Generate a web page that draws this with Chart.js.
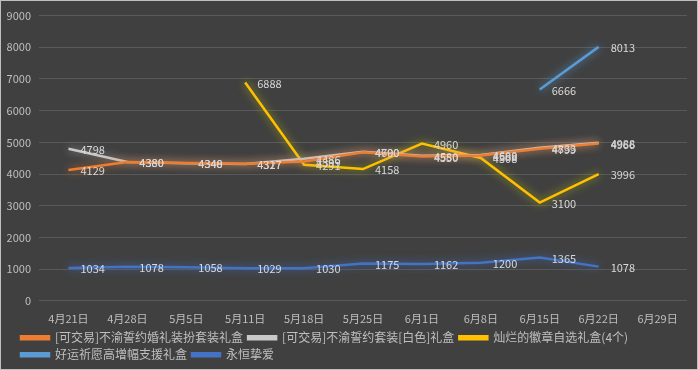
<!DOCTYPE html>
<html>
<head>
<meta charset="utf-8">
<script src="https://cdn.jsdelivr.net/npm/chart.js@4/dist/chart.umd.min.js"></script>
<style>
  html, body { margin: 0; padding: 0; background: #404040; }
  #wrap { width: 698px; height: 370px; box-sizing: border-box; border: 1px solid #bfbfbf; background: #404040; }
</style>
</head>
<body>
<div id="wrap"><canvas id="chart"></canvas></div>
<script>
const categories = ["4月21日", "4月28日", "5月5日", "5月11日", "5月18日", "5月25日", "6月1日", "6月8日", "6月15日", "6月22日", "6月29日"];
const weddingBox = [4129, 4380, 4348, 4327, 4399, 4690, 4550, 4588, 4799, 4966, null];
const whiteSetBox = [4798, 4380, 4340, 4317, 4486, 4700, 4580, 4600, 4833, 4988, null];
const badgeBox = [null, null, null, 6888, 4291, 4158, 4960, 4508, 3100, 3996, null];
const luckBox = [null, null, null, null, null, null, null, null, 6666, 8013, null];
const eternalLove = [1034, 1078, 1058, 1029, 1030, 1175, 1162, 1200, 1365, 1078, null];
const yTicks = [0, 1000, 2000, 3000, 4000, 5000, 6000, 7000, 8000, 9000];

const FONT = "'Noto Sans CJK SC', 'Noto Sans', sans-serif";

// glow round each line
const glowPlugin = {
  id: "glow",
  beforeDatasetDraw(chart, args) {
    const ds = chart.data.datasets[args.index];
    chart.ctx.save();
    chart.ctx.shadowColor = ds.glowColor;
    chart.ctx.shadowBlur = 9;
  },
  afterDatasetDraw(chart) {
    chart.ctx.restore();
  },
};

// value labels to the right of each point
const valueLabels = {
  id: "valueLabels",
  afterDatasetsDraw(chart) {
    const ctx = chart.ctx;
    ctx.save();
    ctx.font = "11px " + FONT;
    ctx.fillStyle = "#d9d9d9";
    ctx.textAlign = "left";
    ctx.textBaseline = "middle";
    chart.data.datasets.forEach((ds, i) => {
      const meta = chart.getDatasetMeta(i);
      meta.data.forEach((pt, j) => {
        const v = ds.data[j];
        if (v === null || v === undefined) return;
        ctx.fillText(String(v), pt.x + 12, pt.y + 1);
      });
    });
    ctx.restore();
  },
};

// push the legend in from the left edge, under the x labels
const legendPlace = {
  id: "legendPlace",
  afterLayout(chart) {
    const lg = chart.legend;
    if (!lg) return;
    lg.left += 10;
    lg.top = chart.chartArea.bottom + 26;
  },
};

function series(label, data, color, glow) {
  return {
    label: label,
    data: data,
    borderColor: color,
    backgroundColor: color,
    glowColor: glow,
    borderWidth: 2.5,
    pointRadius: 0,
    pointHoverRadius: 0,
    tension: 0,
    spanGaps: false,
  };
}

new Chart(document.getElementById("chart"), {
  type: "line",
  data: {
    labels: categories,
    datasets: [
      series("[可交易]不渝誓约婚礼装扮套装礼盒", weddingBox, "#ED7D31", "rgba(237,125,49,0.8)"),
      series("[可交易]不渝誓约套装[白色]礼盒", whiteSetBox, "#C8C8C8", "rgba(200,200,200,0.7)"),
      series("灿烂的徽章自选礼盒(4个)", badgeBox, "#FFC000", "rgba(200,200,0,0.8)"),
      series("好运祈愿高增幅支援礼盒", luckBox, "#5B9BD5", "rgba(91,155,213,0.9)"),
      series("永恒挚爱", eternalLove, "#4472C4", "rgba(68,114,196,0.9)"),
    ],
  },
  options: {
    responsive: true,
    maintainAspectRatio: false,
    animation: false,
    layout: { padding: { left: 5, right: 10, top: -2, bottom: 0 } },
    plugins: {
      legend: {
        position: "bottom",
        align: "start",
        maxHeight: 41,
        labels: {
          color: "#bfbfbf",
          font: { size: 12, family: FONT },
          boxWidth: 28,
          boxHeight: 3,
          padding: 5,
        },
      },
      tooltip: { enabled: false },
    },
    scales: {
      x: {
        offset: true,
        grid: { display: false },
        border: { display: false },
        ticks: { color: "#bfbfbf", font: { size: 11, family: FONT }, padding: 3, maxRotation: 0, autoSkip: false },
      },
      y: {
        min: 0,
        max: 9000,
        afterFit(s) { s.width = 33; },
        afterBuildTicks(s) { s.ticks = yTicks.map(v => ({ value: v })); },
        grid: { color: "#595959", drawTicks: false },
        border: { display: false },
        ticks: { color: "#bfbfbf", font: { size: 11, family: FONT }, padding: 8, callback: v => String(v) },
      },
    },
  },
  plugins: [glowPlugin, valueLabels, legendPlace],
});
</script>
</body>
</html>
